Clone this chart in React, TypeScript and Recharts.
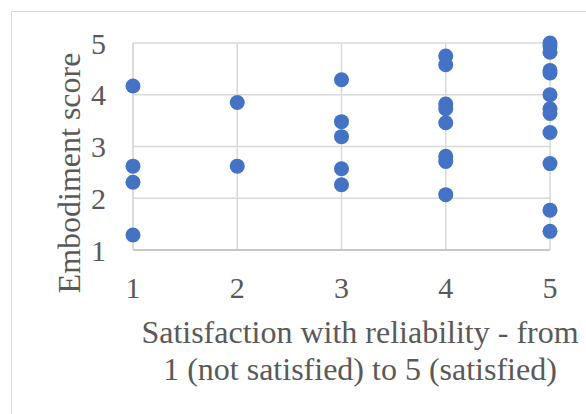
import React from 'react';
import { ScatterChart, Scatter, XAxis, YAxis, CartesianGrid } from 'recharts';

// embodiment scores, grouped by satisfaction rating (1..5)
const scoresAt1 = [4.17, 2.62, 2.31, 1.29];
const scoresAt2 = [3.85, 2.62];
const scoresAt3 = [4.29, 3.48, 3.19, 2.57, 2.26];
const scoresAt4 = [4.75, 4.58, 3.82, 3.73, 3.46, 2.81, 2.71, 2.07];
const scoresAt5 = [5.0, 4.94, 4.82, 4.47, 4.42, 4.0, 3.73, 3.64, 3.27, 2.67, 1.77, 1.36];

const ratings = [1, 2, 3, 4, 5];
const xTicks = [1, 2, 3, 4, 5];
const yTicks = [1, 2, 3, 4, 5];

const groups = [scoresAt1, scoresAt2, scoresAt3, scoresAt4, scoresAt5];
const points = groups.flatMap((scores, i) => scores.map((s) => ({ x: ratings[i], y: s })));

const FONT = 'Liberation Serif';
const TEXT = '#595959';

const Dot = (props: any) => <circle cx={props.cx} cy={props.cy} r={7.5} fill="#4472C4" />;

export default function App() {
  return (
    <div
      style={{
        position: 'fixed',
        left: 0,
        top: 0,
        width: 586,
        height: 414,
        overflow: 'hidden',
        background: '#fff',
        fontFamily: FONT,
      }}
    >
      <div
        style={{
          position: 'absolute',
          left: 11,
          top: 11,
          width: 620,
          height: 450,
          border: '1px solid #d9d9d9',
        }}
      />
      <div style={{ position: 'absolute', left: 0, top: 0 }}>
        <ScatterChart
          width={586}
          height={414}
          margin={{ top: 43, right: 36, left: 0, bottom: 0 }}
          style={{ fontFamily: FONT }}
        >
          <CartesianGrid stroke="#d9d9d9" strokeWidth={1.5} />
          <XAxis
            type="number"
            dataKey="x"
            domain={[1, 5]}
            ticks={xTicks}
            height={164}
            axisLine={{ stroke: '#bfbfbf', strokeWidth: 1.5 }}
            tickLine={false}
            tickSize={0}
            tickMargin={27}
            tick={{ fill: TEXT, fontSize: 30, style: { fontFamily: FONT } }}
            label={{
              content: () => (
                <text fill={TEXT} fontSize={32} style={{ fontFamily: FONT }} textAnchor="middle">
                  <tspan x={360} y={343}>Satisfaction with reliability - from</tspan>
                  <tspan x={360} y={380}>1 (not satisfied) to 5 (satisfied)</tspan>
                </text>
              ),
            }}
          />
          <YAxis
            type="number"
            dataKey="y"
            domain={[1, 5]}
            ticks={yTicks}
            width={133}
            axisLine={{ stroke: '#d9d9d9', strokeWidth: 1.5 }}
            tickLine={false}
            tickSize={0}
            tickMargin={27}
            tick={{ fill: TEXT, fontSize: 30, style: { fontFamily: FONT } }}
            label={{
              content: () => (
                <text
                  x={80}
                  y={173}
                  transform="rotate(-90 80 173)"
                  fill={TEXT}
                  fontSize={32}
                  style={{ fontFamily: FONT }}
                  textAnchor="middle"
                >
                  Embodiment score
                </text>
              ),
            }}
          />
          <Scatter data={points} shape={Dot} isAnimationActive={false} />
        </ScatterChart>
      </div>
    </div>
  );
}
